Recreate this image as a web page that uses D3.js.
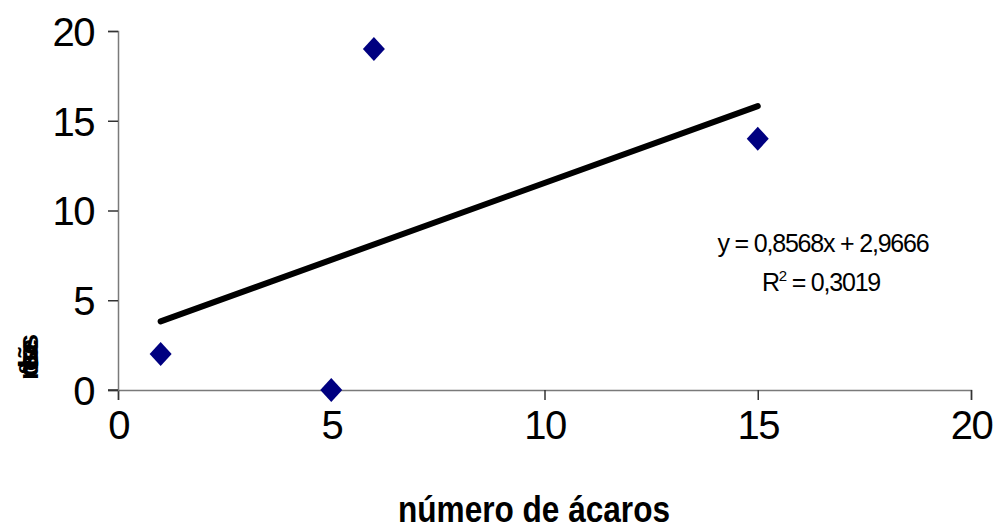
<!DOCTYPE html>
<html><head><meta charset="utf-8">
<script src="https://cdn.jsdelivr.net/npm/d3@7"></script>
<style>body{margin:0;background:#fff;}svg{display:block;}</style>
</head><body>
<script>
const xValues = [1, 5, 6, 15];
const yValues = [2, 0, 19, 14];
const xTicks = [0, 5, 10, 15, 20];
const yTicks = [0, 5, 10, 15, 20];
const slope = 0.8568, intercept = 2.9666;
const trendRange = [1, 15];
const eqText = "y = 0,8568x + 2,9666";
const r2Value = "0,3019";
const xTitle = "número de ácaros";
const yTitle = "nº de lesões";

const W = 993, H = 529;
const svg = d3.select("body").append("svg").attr("width", W).attr("height", H);
const x = d3.scaleLinear().domain([0, 20]).range([118, 971]);
const y = d3.scaleLinear().domain([0, 20]).range([390, 31]);

// axes
const gx = svg.append("g").attr("transform", `translate(0,${y(0)})`)
  .call(d3.axisBottom(x).tickValues(xTicks).tickSize(10).tickPadding(10).tickFormat(d3.format("d")));
const gy = svg.append("g").attr("transform", `translate(${x(0)},0)`)
  .call(d3.axisLeft(y).tickValues(yTicks).tickSize(10).tickPadding(14).tickFormat(d3.format("d")));
[gx, gy].forEach(g => {
  g.select(".domain").attr("stroke", "#7a7a7a").attr("stroke-width", 1.5);
  g.selectAll(".tick line").attr("stroke", "#333").attr("stroke-width", 1.5);
  g.selectAll("text").attr("font-family", "Liberation Sans, Arial, sans-serif")
    .attr("font-size", 40).attr("letter-spacing", -1.5).attr("fill", "#000");
});
gy.selectAll("text").attr("dy", "0.36em");
gx.selectAll("text").attr("dy", "0.72em");
svg.append("line").attr("x1", x(0) - 10).attr("x2", x(0)).attr("y1", y(0)).attr("y2", y(0))
  .attr("stroke", "#333").attr("stroke-width", 1.5);

// trendline
svg.append("line")
  .attr("x1", x(trendRange[0])).attr("y1", y(slope * trendRange[0] + intercept))
  .attr("x2", x(trendRange[1])).attr("y2", y(slope * trendRange[1] + intercept))
  .attr("stroke", "#000").attr("stroke-width", 6).attr("stroke-linecap", "round");

// points
const pts = xValues.map((v, i) => ({x: v, y: yValues[i]}));
svg.selectAll("path.pt").data(pts).enter().append("path").attr("class", "pt")
  .attr("d", "M0,-12 L11,0 L0,12 L-11,0 Z")
  .attr("transform", d => `translate(${x(d.x)},${y(d.y)})`)
  .attr("fill", "#000080");

// equation
const ff = "Liberation Sans, Arial, sans-serif";
svg.append("text").attr("x", 823).attr("y", 252).attr("text-anchor", "middle")
  .attr("font-family", ff).attr("font-size", 25).attr("letter-spacing", -1.2).text(eqText);
const r2 = svg.append("text").attr("x", 821).attr("y", 291).attr("text-anchor", "middle")
  .attr("font-family", ff).attr("font-size", 25).attr("letter-spacing", -1.2);
r2.append("tspan").text("R");
r2.append("tspan").attr("font-size", 15).attr("dy", -10).text("2");
r2.append("tspan").attr("dy", 10).text(" = " + r2Value);

// axis titles
svg.append("text").attr("x", 534).attr("y", 522).attr("text-anchor", "middle")
  .attr("font-family", ff).attr("font-weight", "bold").attr("font-size", 37)
  .attr("textLength", 272).attr("lengthAdjust", "spacingAndGlyphs").text(xTitle);
svg.append("text").attr("transform", "translate(38,380) rotate(-90)")
  .attr("font-family", ff).attr("font-weight", "bold").attr("font-size", 28)
  .attr("textLength", 46).attr("lengthAdjust", "spacing").text(yTitle);
</script>
</body></html>
